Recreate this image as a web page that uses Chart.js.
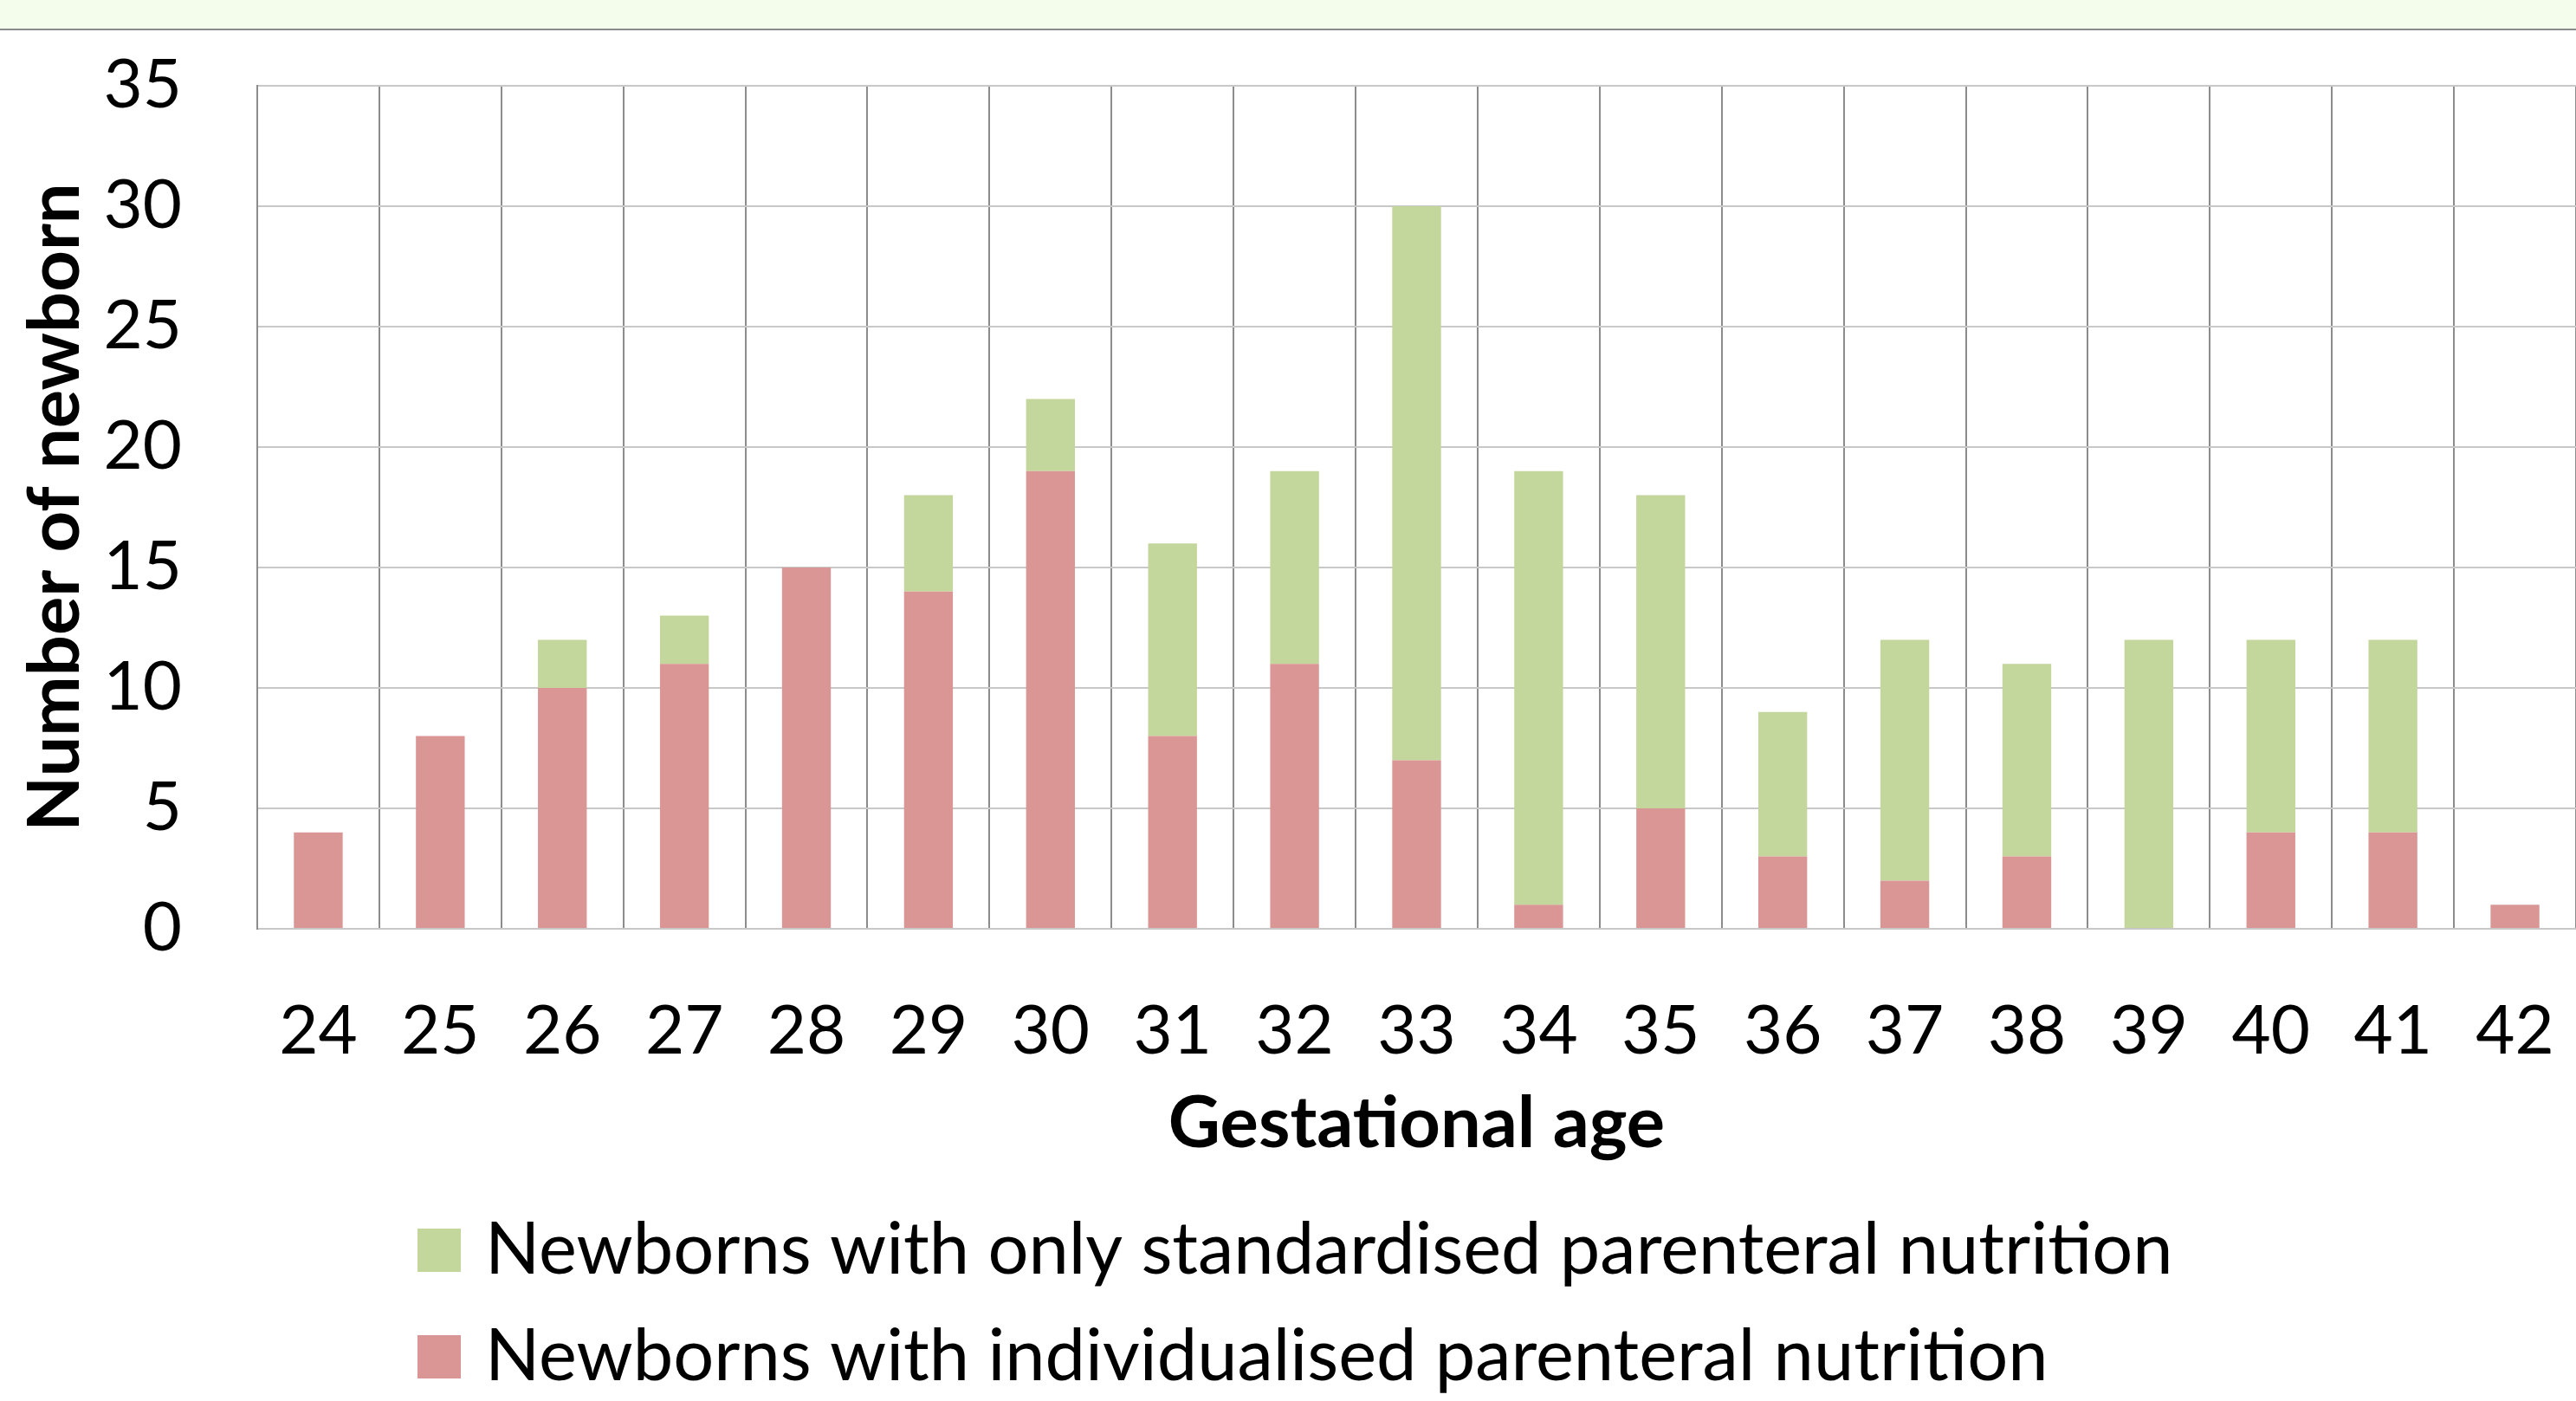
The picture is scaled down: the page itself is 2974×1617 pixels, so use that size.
<!DOCTYPE html>
<html>
<head>
<meta charset="utf-8">
<script src="https://cdn.jsdelivr.net/npm/chart.js@4"></script>
<style>
    html, body { margin: 0; padding: 0; background: #ffffff; overflow: hidden; }
    #band { position: absolute; left: 0; top: 0; width: 2974px; height: 33px; background: #f4fdec; border-bottom: 2px solid #8a8a8a; }
    #wrap { position: absolute; left: 0; top: 0; width: 2974px; height: 1617px; }
</style>
</head>
<body>
<div id="band"></div>
<div id="wrap"><canvas id="chart"></canvas></div>
<script>
// gestational age (weeks)
const ages = ["24", "25", "26", "27", "28", "29", "30", "31", "32", "33", "34", "35", "36", "37", "38", "39", "40", "41", "42"];
// newborns with individualised PN (bottom of stack)
const individualised = [4, 8, 10, 11, 15, 14, 19, 8, 11, 7, 1, 5, 3, 2, 3, 0, 4, 4, 1];
// newborns with only standardised PN (top of stack)
const standardised = [0, 0, 2, 2, 0, 4, 3, 8, 8, 23, 18, 13, 6, 10, 8, 12, 8, 8, 0];
const yTicks = [0, 5, 10, 15, 20, 25, 30, 35];

const FONT = "Lato";
const SIZE = 78;
const TITLE_SIZE = 83;

// legend drawn as two left-aligned rows, standardised first
const legendRows = {
    id: "legendRows",
    afterDraw(chart) {
        const ctx = chart.ctx;
        const items = chart.data.datasets.slice().reverse();
        ctx.save();
        ctx.font = TITLE_SIZE + "px " + FONT;
        ctx.textBaseline = "middle";
        ctx.textAlign = "left";
        items.forEach((ds, i) => {
            const top = 1418 + i * 123;
            ctx.fillStyle = ds.backgroundColor;
            ctx.fillRect(482, top, 50, 50);
            ctx.fillStyle = "#000000";
            ctx.fillText(ds.label, 560, top + 25);
        });
        ctx.restore();
    },
};

const data = {
    labels: ages,
    datasets: [
        {
            label: "Newborns with individualised parenteral nutrition",
            data: individualised,
            backgroundColor: "#d99694",
        },
        {
            label: "Newborns with only standardised parenteral nutrition",
            data: standardised,
            backgroundColor: "#c3d69b",
        },
    ],
};

const config = {
    type: "bar",
    data: data,
    options: {
        responsive: false,
        animation: false,
        devicePixelRatio: 1,
        categoryPercentage: 1,
        barPercentage: 0.4,
        layout: {
            padding: { top: 99, right: 0, bottom: 260, left: 0 },
        },
        plugins: {
            legend: { display: false },
            tooltip: { enabled: false },
        },
        scales: {
            x: {
                stacked: true,
                grid: {
                    color: "#8c8c8c",
                    lineWidth: 2,
                    drawTicks: false,
                },
                border: { color: "#c8c8c8", width: 2 },
                ticks: {
                    color: "#000000",
                    font: { family: FONT, size: SIZE },
                    padding: 72,
                    autoSkip: false,
                    maxRotation: 0,
                },
                title: {
                    display: true,
                    text: "Gestational age",
                    color: "#000000",
                    font: { family: FONT, size: TITLE_SIZE, weight: "bold" },
                    padding: { top: 0, bottom: 10 },
                },
                afterFit: (scale) => {
                    scale.height = 285;
                    scale.paddingLeft = 0;
                    scale.paddingRight = 0;
                },
            },
            y: {
                stacked: true,
                min: 0,
                max: 35,
                afterBuildTicks: (scale) => {
                    scale.ticks = yTicks.map((v) => ({ value: v }));
                },
                grid: {
                    color: "#c8c8c8",
                    lineWidth: 2,
                    drawTicks: false,
                },
                border: { color: "#8c8c8c", width: 2 },
                ticks: {
                    color: "#000000",
                    font: { family: FONT, size: SIZE },
                    padding: 87,
                },
                title: {
                    display: true,
                    text: "Number of newborn",
                    color: "#000000",
                    font: { family: FONT, size: TITLE_SIZE, weight: "bold" },
                    padding: { top: 14, bottom: 10 },
                },
                afterFit: (scale) => {
                    scale.width = 297;
                    scale.paddingTop = 0;
                    scale.paddingBottom = 0;
                },
            },
        },
    },
    plugins: [legendRows],
};

const canvas = document.getElementById("chart");
canvas.width = 2974;
canvas.height = 1617;
const chart = new Chart(canvas, config);
</script>
</body>
</html>
